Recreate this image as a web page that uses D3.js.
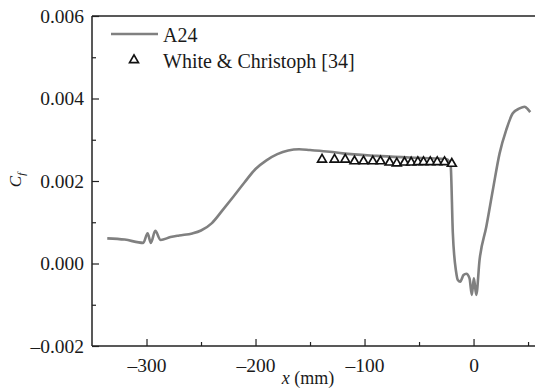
<!DOCTYPE html>
<html>
<head>
<meta charset="utf-8">
<script src="https://cdn.jsdelivr.net/npm/d3@7"></script>
<style>
  body { margin: 0; background: #fff; }
  svg { display: block; }
  svg text { font-family: "Liberation Serif", "Times New Roman", serif; }
</style>
</head>
<body>
<svg id="chart" width="535" height="392"></svg>
<script>
// A24 simulation, skin friction along the wall
const a24X = [-336, -320, -303, -299, -296, -292, -287, -278, -270, -258, -250, -240, -230, -220, -210, -200, -190,
  -180, -170, -160, -150, -132, -120, -89, -59, -25, -22, -21, -19, -16, -14.4, -12.2, -9.2, -6.7, -3.7, -1.6, 0.3,
  2.5, 5.5, 11.7, 17.7, 23.9, 30, 36, 42.2, 46.8, 49.8, 52];
const a24Cf = [0.00061, 0.00058, 0.00050, 0.00073, 0.00050, 0.00079, 0.00057, 0.00064, 0.00068, 0.00073, 0.00080,
  0.00098, 0.00130, 0.00163, 0.00197, 0.00229, 0.00250, 0.00265, 0.00274, 0.00277, 0.00275, 0.00271, 0.00267,
  0.00261, 0.00257, 0.00253, 0.00246, 0.00239, 0.00074, -0.00020, -0.00040, -0.00044, -0.00028, -0.00025, -0.00036,
  -0.00076, -0.00036, -0.00076, 0.00008, 0.00089, 0.00178, 0.00267, 0.00324, 0.00364, 0.00376, 0.00380, 0.00374,
  0.00367];

// White & Christoph [34]
const expX = [-139, -127.5, -117.7, -109.2, -100.9, -92.4, -85.3, -77, -70.4, -63.3, -57.2, -51.1, -45.9, -39.7,
  -33.3, -26.6, -19.9];
const expCf = [0.00252, 0.00252, 0.00252, 0.00248, 0.00248, 0.00248, 0.00248, 0.00245, 0.00243, 0.00245, 0.00245,
  0.00246, 0.00246, 0.00246, 0.00246, 0.00246, 0.00242];

const xMajor = [-300, -200, -100, 0];
const xMinor = [-250, -150, -50, 50];
const yMajor = [-0.002, 0, 0.002, 0.004, 0.006];
const yMinor = [-0.001, 0.001, 0.003, 0.005];

const legendLabels = ["A24", "White & Christoph [34]"];

const svg = d3.select('#chart');
const mLeft = 92, mRight = 533.5, mTop = 16, mBottom = 346;

const x = d3.scaleLinear().domain([-350, 55]).range([mLeft, mRight]);
const y = d3.scaleLinear().domain([-0.002, 0.006]).range([mBottom, mTop]);

const axisColor = '#222';
const fmtX = d => (d < 0 ? '\u2013' + Math.abs(d) : String(d));
const fmtY = d => (d < 0 ? '\u2013' : '') + Math.abs(d).toFixed(3);

// top border
svg.append('line')
  .attr('x1', mLeft).attr('x2', 535)
  .attr('y1', mTop).attr('y2', mTop)
  .style('stroke', axisColor).style('stroke-width', 1.5);

// x axis
const gx = svg.append('g').attr('transform', `translate(0,${mBottom})`);
gx.call(d3.axisBottom(x).tickValues(xMajor).tickSize(-7).tickPadding(12).tickFormat(fmtX));
gx.append('g').call(d3.axisBottom(x).tickValues(xMinor).tickSize(-4).tickFormat(''));
gx.selectAll('.domain').remove();
gx.append('line').attr('x1', mLeft).attr('x2', 535)
  .style('stroke', axisColor).style('stroke-width', 1.5);

// y axis
const gy = svg.append('g').attr('transform', `translate(${mLeft},0)`);
gy.call(d3.axisLeft(y).tickValues(yMajor).tickSize(-7).tickPadding(8).tickFormat(fmtY));
gy.append('g').call(d3.axisLeft(y).tickValues(yMinor).tickSize(-4).tickFormat(''));
gy.selectAll('.domain').remove();
gy.append('line').attr('y1', mTop).attr('y2', mBottom)
  .style('stroke', axisColor).style('stroke-width', 1.5);

svg.selectAll('g').attr('font-family', null);
svg.selectAll('.tick line').style('stroke', axisColor).style('stroke-width', 1.2);
svg.selectAll('.tick text').attr('font-size', 19.5).attr('fill', '#1a1a1a');

// A24 line
const line = d3.line()
  .x((d, i) => x(a24X[i]))
  .y(d => y(d))
  .curve(d3.curveMonotoneX);

svg.append('path')
  .datum(a24Cf)
  .attr('d', line)
  .style('fill', 'none')
  .style('stroke', '#808080')
  .style('stroke-width', 2.6)
  .style('stroke-linejoin', 'round');

// experiment markers
const tri = d3.symbol().type(d3.symbolTriangle).size(34);
svg.append('g')
  .selectAll('path')
  .data(expCf)
  .enter()
  .append('path')
  .attr('d', tri)
  .attr('transform', (d, i) => `translate(${x(expX[i])},${y(d)})`)
  .style('fill', '#fff')
  .style('stroke', '#111')
  .style('stroke-width', 1.7);

// legend
svg.append('line')
  .attr('x1', 111).attr('x2', 158).attr('y1', 34).attr('y2', 34)
  .style('stroke', '#808080').style('stroke-width', 2.6);
svg.append('text').attr('x', 163).attr('y', 41.5)
  .attr('font-size', 20).attr('fill', '#1a1a1a').text(legendLabels[0]);
svg.append('path').attr('d', tri).attr('transform', 'translate(134,60)')
  .style('fill', '#fff').style('stroke', '#111').style('stroke-width', 1.7);
svg.append('text').attr('x', 163).attr('y', 67.5)
  .attr('font-size', 20).attr('fill', '#1a1a1a').text(legendLabels[1]);

// axis titles
const xt = svg.append('text').attr('x', 308).attr('y', 384).attr('text-anchor', 'middle')
  .attr('font-size', 18).attr('fill', '#1a1a1a');
xt.append('tspan').attr('font-style', 'italic').text('x');
xt.append('tspan').text(' (mm)');

const yt = svg.append('text').attr('transform', 'translate(21,180) rotate(-90)').attr('text-anchor', 'middle')
  .attr('font-size', 17).attr('fill', '#1a1a1a');
yt.append('tspan').attr('font-style', 'italic').text('C');
yt.append('tspan').attr('dy', 4).attr('font-size', 11).attr('font-style', 'italic').text('f');
</script>
</body>
</html>
